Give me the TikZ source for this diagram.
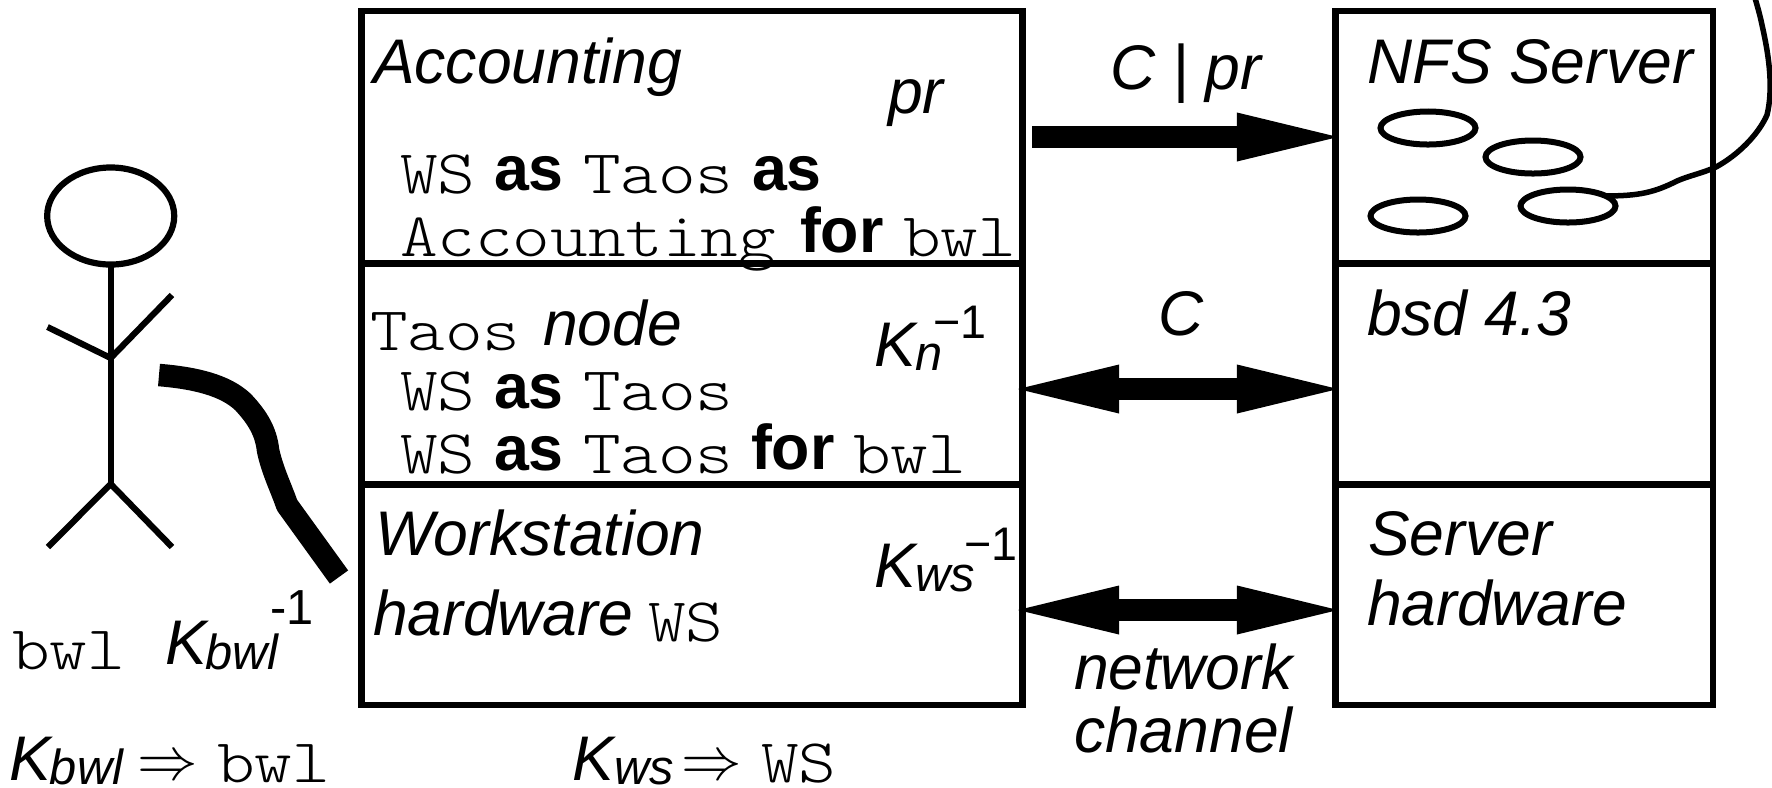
\documentclass[tikz,border=0pt]{standalone}
\usepackage{fontspec}
\setmainfont[FakeStretch=0.99]{Liberation Sans}
\setmonofont[FakeStretch=1.155]{Latin Modern Mono Light}
\usetikzlibrary{arrows.meta,shapes.geometric}
\tikzset{
  base/.style={anchor=base west,inner sep=0pt,outer sep=0pt,text=black},
  ital/.style={base,font=\fontsize{17.93pt}{20pt}\selectfont\itshape},
  bld/.style={base,font=\fontsize{18pt}{20pt}\selectfont\bfseries},
  mono/.style={base,font=\fontsize{17.64pt}{20pt}\selectfont\ttfamily},
  subs/.style={base,font=\fontsize{14pt}{15pt}\selectfont\itshape},
  sups/.style={base,font=\fontsize{13.4pt}{15pt}\selectfont},
  comp/.style={draw=black,line width=.066cm,inner sep=0pt,outer sep=0pt,miter limit=10},
  lc/.style={comp,minimum width=6.605cm},
  rc/.style={comp,minimum width=3.775cm},
  oval/.style={ellipse,draw=black,line width=.06cm,inner sep=0pt,outer sep=0pt,minimum width=.95cm,minimum height=.33cm},
  stick/.style={draw=black,line width=.062cm},
  fat/.style={line width=.22cm,draw=black},
}
\begin{document}
\begin{tikzpicture}[x=0.01cm,y=-0.01cm]
\useasboundingbox (0,0) rectangle (1772,787);
% text
\node[ital] (t1) at (373,83) {Accounting};
\node[ital] (t2) at (888,113) {pr};
\node[mono] (t3) at (400,193) {WS};
\node[bld]  (t4) at (494,190) {as};
\node[mono] (t5) at (583,193) {Taos};
\node[bld]  (t6) at (752,190) {as};
\node[mono] (t7) at (400,256) {Accounting};
\node[bld]  (t8) at (800,252) {for};
\node[mono] (t9) at (903,256) {bwl};
\node[mono] (t10) at (370,350) {Taos};
\node[ital] (t11) at (543,345) {node};
\node[ital] (t12) at (874,366) {K};
\node[subs] (t13) at (915,370) {n};
\node[sups] (t14) at (933,338) {−1};
\node[mono] (t15) at (400,410) {WS};
\node[bld]  (t16) at (494,408) {as};
\node[mono] (t17) at (583,410) {Taos};
\node[mono] (t18) at (400,473) {WS};
\node[bld]  (t19) at (494,470) {as};
\node[mono] (t20) at (583,473) {Taos};
\node[bld]  (t21) at (751,469) {for};
\node[mono] (t22) at (853,473) {bwl};
\node[ital] (t23) at (375,555) {Workstation};
\node[ital] (t24) at (373,635) {hardware};
\node[mono] (t25) at (648,641) {WS};
\node[ital] (t26) at (874,587) {K};
\node[subs] (t27) at (915,591) {ws};
\node[sups] (t28) at (964,560) {−1};
\node[mono] (t29) at (12,669) {bwl};
\node[ital] (t30) at (166,664) {K};
\node[subs] (t31) at (205,669) {bwl};
\node[sups,font=\fontsize{14pt}{15pt}\selectfont] (t32) at (270,624) {-1};
\node[ital] (t33) at (10,780) {K};
\node[subs] (t34) at (50,784) {bwl};
\node[base] (t35) at (137,779) {\scalebox{1.72}{$\Rightarrow$}};
\node[mono] (t36) at (217,782) {bwl};
\node[ital] (t37) at (572,780) {K};
\node[subs] (t38) at (614,784) {ws};
\node[base] (t39) at (681,779) {\scalebox{1.72}{$\Rightarrow$}};
\node[mono] (t40) at (761,782) {WS};
\node[ital] (t41) at (1110,89) {C | pr};
\node[ital] (t42) at (1367,83) {NFS Server};
\node[ital] (t43) at (1158,335) {C};
\node[ital] (t44) at (1367,335) {bsd 4.3};
\node[ital] (t45) at (1368,555) {Server};
\node[ital] (t46) at (1367,625) {hardware};
\node[ital] (t47) at (1074,689) {network};
\node[ital] (t48) at (1074,752) {channel};
% boxes
\node[lc,minimum height=2.525cm] (acc) at (691.75,137.25) {};
\node[lc,minimum height=2.21cm] (tnode) at (691.75,374) {};
\node[lc,minimum height=2.205cm] (wsh) at (691.75,594.75) {};
\node[rc,minimum height=2.525cm] (nfs) at (1524.25,137.25) {};
\node[rc,minimum height=2.21cm] (bsd) at (1524.25,374) {};
\node[rc,minimum height=2.205cm] (srv) at (1524.25,594.75) {};
% files
\node[oval] (e1) at (1428,128) {};
\node[oval] (e2) at (1533,157) {};
\node[oval] (e3) at (1568,206) {};
\node[oval] (e4) at (1418,216) {};
\coordinate (wire) at (1755,-2);
\draw[draw=black,line width=.055cm] (e3.15) .. controls (1640,196) and (1655,192) .. (1677,181)
  .. controls (1688,176) and (1703,173) .. (1716,167)
  .. controls (1738,155) and (1758,135) .. (1767,115)
  .. controls (1773,90) and (1770,60) .. (1762,25)
  .. controls (1760,15) and (1757,5) .. (wire);
% arrows
\coordinate (a1s) at (1032,137); \coordinate (a1e) at (1338,137);
\coordinate (a2s) at (1018,389); \coordinate (a2e) at (1338,389);
\coordinate (a3s) at (1018,610); \coordinate (a3e) at (1338,610);
\draw[fat,-{Triangle[length=1.01cm,width=.49cm,line width=0pt]}] (a1s) -- (a1e);
\draw[fat,{Triangle[length=1.01cm,width=.49cm,line width=0pt]}-{Triangle[length=1.01cm,width=.49cm,line width=0pt]}] (a2s) -- (a2e);
\draw[fat,{Triangle[length=1.01cm,width=.49cm,line width=0pt]}-{Triangle[length=1.01cm,width=.49cm,line width=0pt]}] (a3s) -- (a3e);
% stick figure
\node[ellipse,draw=black,line width=.062cm,inner sep=0pt,outer sep=0pt,minimum width=1.27cm,minimum height=.97cm] (head) at (110.7,216) {};
\coordinate (hip) at (110.7,484);
\coordinate (sho) at (110.7,358);
\coordinate (arml) at (47.5,327);
\coordinate (armr) at (172,295);
\coordinate (legl) at (48,547);
\coordinate (legr) at (172,547);
\draw[stick] (head.south) -- (hip);
\draw[stick] (arml) -- (sho) -- (armr);
\draw[stick] (legl) -- (hip) -- (legr);
% smart card link
\coordinate (c1) at (159,375);
\coordinate (c2) at (339,577);
\draw[draw=black,line width=.225cm,line join=round] (c1) .. controls (195,378) and (225,385) .. (243,402)
  .. controls (258,418) and (266,432) .. (268,450)
  .. controls (272,470) and (282,490) .. (287,505)
  -- (c2);
\end{tikzpicture}
\end{document}
